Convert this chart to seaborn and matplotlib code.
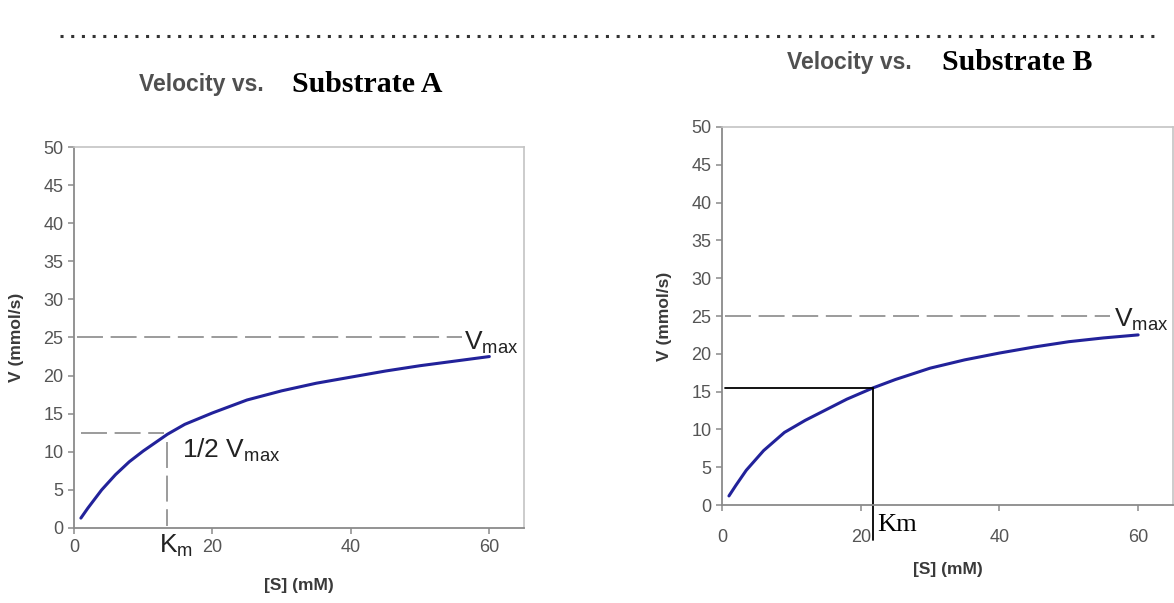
import numpy as np
import matplotlib
matplotlib.use("Agg")
import matplotlib.pyplot as plt
import seaborn as sns
from matplotlib.lines import Line2D

# curve readings, substrate A
s_a = [1, 2, 4, 6, 8, 10, 13.5, 16, 20, 25, 30, 35, 40, 45, 50, 55, 60]
v_a = [1.3, 2.6, 5.0, 7.0, 8.7, 10.1, 12.3, 13.6, 15.1, 16.8, 18.0, 19.0, 19.8, 20.6, 21.3, 21.9, 22.5]

# curve readings, substrate B
s_b = [1, 2, 3.5, 6, 9, 12, 15, 18, 21.8, 25, 30, 35, 40, 45, 50, 55, 60]
v_b = [1.2, 2.6, 4.6, 7.2, 9.6, 11.2, 12.6, 14.0, 15.5, 16.6, 18.1, 19.2, 20.1, 20.9, 21.6, 22.1, 22.5]

vmax = 25
half_vmax = 12.5
km_a = 13.5
km_b = 21.8
v_km_b = 15.5

x_ticks = [0, 20, 40, 60]
y_ticks = [0, 5, 10, 15, 20, 25, 30, 35, 40, 45, 50]

sns.set_style("white")
plt.rcParams['font.family'] = ['Liberation Sans', 'DejaVu Sans']
plt.rcParams['mathtext.fontset'] = 'custom'
plt.rcParams['mathtext.rm'] = 'Liberation Sans'
plt.rcParams['mathtext.it'] = 'Liberation Sans'

fig = plt.figure(figsize=(11.74, 6.03), dpi=100)
ax_a = fig.add_axes([0.063, 0.1244, 0.3833, 0.6318])
ax_b = fig.add_axes([0.615, 0.1625, 0.384, 0.6269])

curve_col = '#22229a'
tick_col = '#555555'
lab_col = '#3a3a3a'


def style_axes(ax, xpad, xlabpad):
    ax.set_xlim(0, 65)
    ax.set_ylim(0, 50)
    ax.set_xticks(x_ticks)
    ax.set_yticks(y_ticks)
    for side in ['left', 'bottom']:
        ax.spines[side].set_color('#8a8a8a')
        ax.spines[side].set_linewidth(1.3)
    for side in ['top', 'right']:
        ax.spines[side].set_color('#c4c4c4')
        ax.spines[side].set_linewidth(1.2)
    ax.tick_params(direction='out', length=4, width=1.1, color='#8a8a8a',
                   labelcolor=tick_col, labelsize=13, left=True, bottom=True)
    ax.tick_params(axis='x', pad=xpad)
    ax.set_xlabel('[S] (mM)', fontsize=12.5, fontweight='bold', color=lab_col, labelpad=xlabpad)
    ax.set_ylabel('V (mmol/s)', fontsize=12.5, fontweight='bold', color=lab_col, labelpad=14)


# ---- Substrate A ----
sns.lineplot(x=s_a, y=v_a, ax=ax_a, color=curve_col, linewidth=2.2)
style_axes(ax_a, 4, 16)
dash = (0, (17, 5))
ax_a.plot([0.5, 56], [vmax, vmax], color='#808080', lw=1.1, linestyle=dash)
ax_a.plot([1, 13], [half_vmax, half_vmax], color='#808080', lw=1.1, linestyle=dash)
ax_a.plot([km_a, km_a], [11.3, 0.3], color='#808080', lw=1.1, linestyle=dash)
ax_a.text(56.4, 24.3, r'V$_{\mathregular{max}}$', fontsize=19, color='#222222', va='center', ha='left')
ax_a.text(15.6, 10.2, r'1/2 V$_{\mathregular{max}}$', fontsize=19, color='#222222', va='center', ha='left')
ax_a.text(12.3, -2.3, r'K$_{\mathregular{m}}$', fontsize=19, color='#222222', va='center', ha='left')

# ---- Substrate B ----
sns.lineplot(x=s_b, y=v_b, ax=ax_b, color=curve_col, linewidth=2.2)
style_axes(ax_b, 13, 12)
ax_b.plot([0.5, 56], [vmax, vmax], color='#808080', lw=1.1, linestyle=dash)
ax_b.plot([0.5, km_b], [v_km_b, v_km_b], color='black', lw=1.3)
ax_b.plot([km_b, km_b], [v_km_b, -4.6], color='black', lw=1.3, clip_on=False)
ax_b.text(56.5, 24.5, r'V$_{\mathregular{max}}$', fontsize=19, color='#222222', va='center', ha='left')
ax_b.text(22.4, -2.6, 'Km', fontsize=19, family='Liberation Serif', color='black', va='center', ha='left')

# titles: gray sans part + bold serif part
fig.text(139 / 1174, 1 - 84 / 603, 'Velocity vs.', fontsize=16.5, fontweight='bold',
         color='#505050', va='center', ha='left')
fig.text(292 / 1174, 1 - 84 / 603, 'Substrate A', fontsize=21.5, fontweight='bold',
         family='Liberation Serif', color='black', va='center', ha='left')
fig.text(787 / 1174, 1 - 63 / 603, 'Velocity vs.', fontsize=16.5, fontweight='bold',
         color='#505050', va='center', ha='left')
fig.text(942 / 1174, 1 - 63 / 603, 'Substrate B', fontsize=21.5, fontweight='bold',
         family='Liberation Serif', color='black', va='center', ha='left')

# dotted rule along the top
fig.add_artist(Line2D([60 / 1174, 1160 / 1174], [1 - 36 / 603, 1 - 36 / 603],
                      transform=fig.transFigure, color='#333333', lw=2.2,
                      linestyle=(0, (1, 2.5))))

fig.savefig('out.png', dpi=100)
